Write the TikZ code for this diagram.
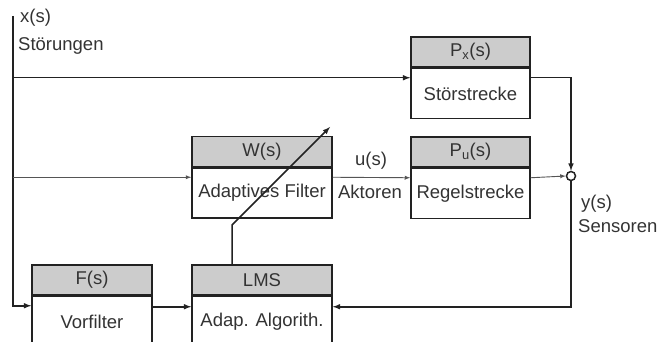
\documentclass[tikz,border=0pt]{standalone}
\usepackage{fontspec}
\setmainfont{Liberation Sans}
\usetikzlibrary{arrows}
\usetikzlibrary{positioning}
\definecolor{linegray}{HTML}{222222}
\definecolor{thingray}{HTML}{555555}
\definecolor{headgray}{HTML}{CCCCCC}
\definecolor{textgray}{HTML}{333333}
\tikzset {
  block node/.style = {
    draw = linegray,
    line width = 1.5pt,
    inner sep = 0,
    text = textgray,
    font = \fontsize{18.5}{20}\selectfont
  },
  % grey title bar of a block
  head/.style = {
    block node,
    fill = headgray,
    minimum height = 30pt,
    minimum width = #1
  },
  % white body of a block
  body/.style = {
    block node,
    fill = white,
    minimum height = 50pt,
    minimum width = #1
  },
  sum/.style = {
    draw = linegray,
    circle,
    line width = 1.5pt,
    fill = white,
    minimum size = 9pt,
    inner sep = 0
  },
  lbl/.style = {
    text = textgray,
    inner sep = 0,
    anchor = west,
    font = \fontsize{18.5}{20}\selectfont
  },
  % main signal path
  sig/.style = {
    draw = linegray,
    line width = 1.5pt
  },
  % thin signal path
  tsig/.style = {
    draw = thingray,
    line width = 0.9pt
  }
}

\begin{document}
\begin{tikzpicture}[x=1pt, y=-1pt, >=latex]
    \useasboundingbox (0,0) rectangle (662,342);

    \node[head=119pt] at (470.5, 52) (pxh) {P\textsubscript{x}(s)};
    \node[body=119pt, below=0pt of pxh] (pxb) {Störstrecke};
    \node[head=140pt] at (262, 151.5) (wh) {W(s)};
    \node[body=140pt, below=0pt of wh] (wb) {Adaptives Filter};
    \node[head=119pt] at (470.5, 152) (puh) {P\textsubscript{u}(s)};
    \node[body=119pt, below=0pt of puh] (pub) {Regelstrecke};
    \node[head=120pt] at (92, 280) (fh) {F(s)};
    \node[body=120pt, below=0pt of fh] (fb) {Vorfilter};
    \node[head=140pt] at (262, 280) (lh) {LMS};
    \node[body=140pt, below=0pt of lh] (lb) {Adap. Algorith.};

    \node[sum] at (571, 176) (sum) {};

    \coordinate (xin) at (13, 16);
    \coordinate (adapt) at (232, 225);
    \coordinate (adapt-end) at (330, 127);

    \node[lbl] at (20, 18) (xs) {x(s)};
    \node[lbl] at (18, 46) (stoer) {Störungen};
    \node[lbl, anchor=center] at (371, 161) (us) {u(s)};
    \node[lbl, anchor=center] at (370, 192) (akt) {Aktoren};
    \node[lbl] at (581, 204) (ys) {y(s)};
    \node[lbl] at (578, 226) (sens) {Sensoren};

    \draw[sig, ->] (xin)
    |- ([yshift=-10pt]fb.north west);
    \draw[sig, ->] (xin |- pxb.north west) ++(0, 10)
    -- ([yshift=-10pt]pxb.north west);
    \draw[tsig, ->] (xin |- wb.north west) ++(0, 10)
    -- ([yshift=-10pt]wb.north west);
    \draw[tsig, ->] ([yshift=-10pt]wb.north east)
    -- ([yshift=-10pt]pub.north west);
    \draw[tsig, ->] ([yshift=-10pt]pub.north east)
    -- (sum.west);
    \draw[sig, ->] ([yshift=-10pt]pxb.north east)
    -| (sum.north);
    \draw[sig, ->] (sum.south)
    |- ([yshift=-11pt]lb.north east);
    \draw[sig, ->] ([yshift=-11pt]fb.north east)
    -- ([yshift=-11pt]lb.north west);

    \draw[sig, ->] (lh.north -| adapt)
    -- (adapt)
    -- (adapt-end);
  \end{tikzpicture}
\end{document}
